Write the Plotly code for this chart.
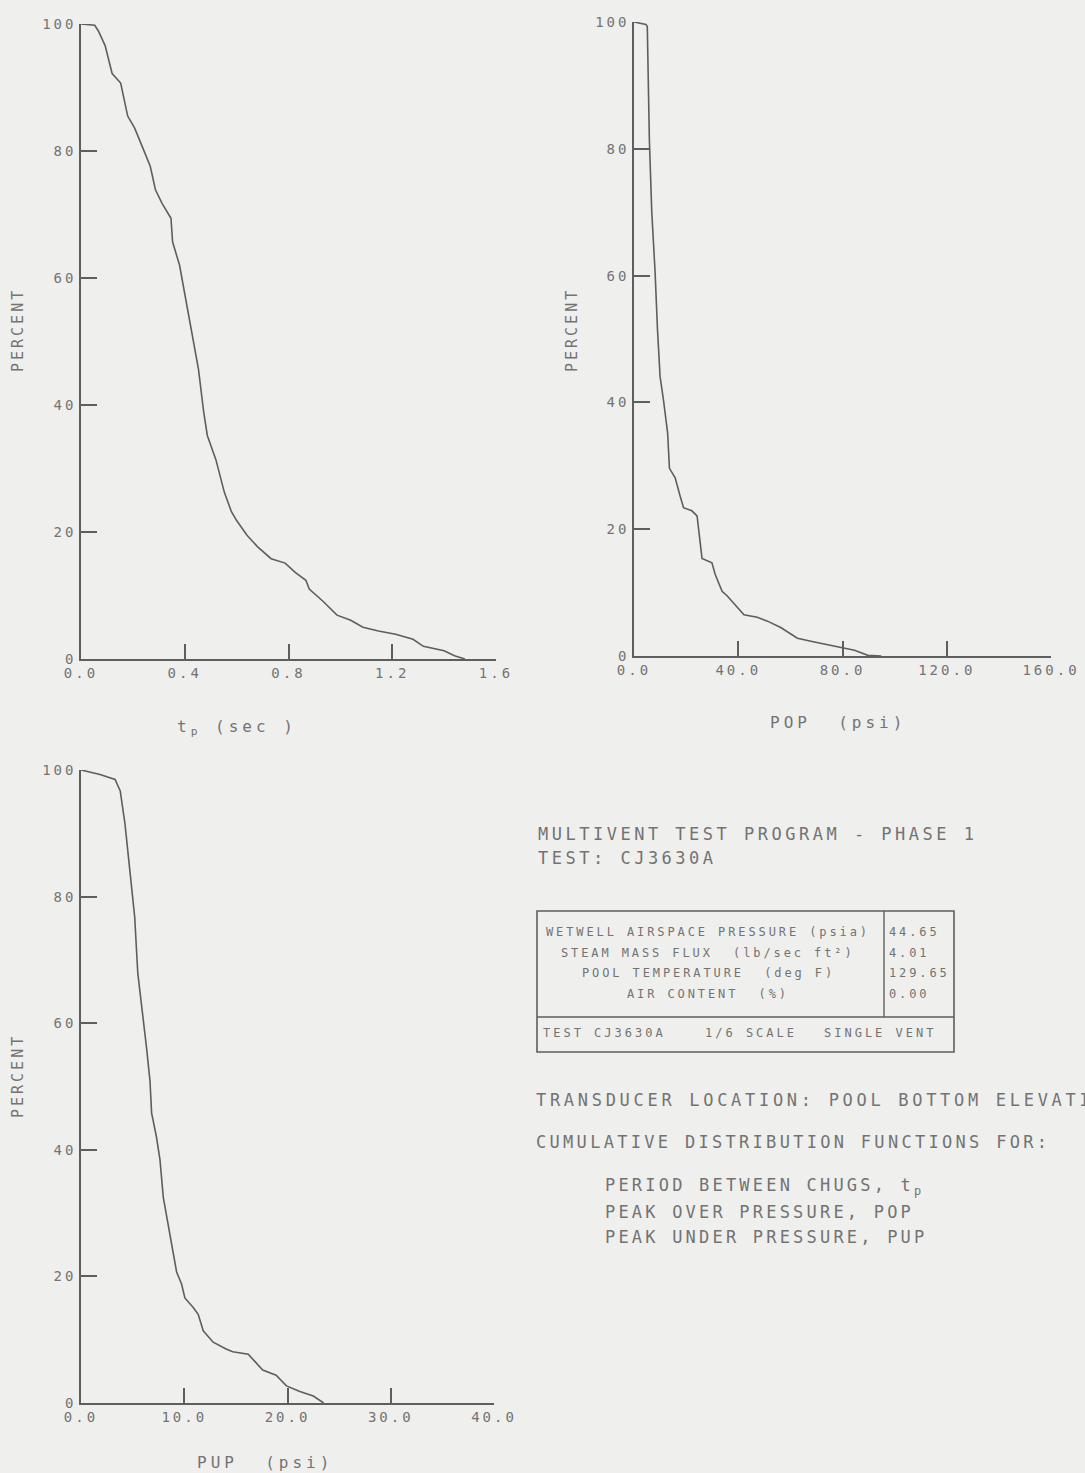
import plotly.graph_objects as go

W, H = 1085, 1473

# ---- data ----
tp_sec = [0.0, 0.053, 0.067, 0.093, 0.12, 0.153, 0.18, 0.207, 0.233, 0.267, 0.287, 0.313, 0.347,
          0.353, 0.38, 0.40, 0.427, 0.453, 0.473, 0.487, 0.52, 0.553, 0.58, 0.60, 0.64, 0.68,
          0.733, 0.787, 0.827, 0.867, 0.88, 0.933, 0.987, 1.04, 1.087, 1.147, 1.213, 1.28,
          1.32, 1.40, 1.44, 1.48]
tp_pct = [100.0, 99.8, 98.9, 96.6, 92.2, 90.7, 85.5, 83.6, 81.0, 77.6, 73.9, 71.7, 69.4,
          65.7, 62.0, 57.5, 51.6, 45.6, 38.9, 35.2, 31.4, 26.2, 23.2, 21.8, 19.5, 17.7,
          15.8, 15.1, 13.6, 12.4, 11.0, 9.1, 6.9, 6.1, 5.0, 4.4, 3.9, 3.1,
          2.0, 1.3, 0.5, 0.0]

pop_psi = [0.0, 4.6, 5.1, 5.9, 6.8, 8.1, 9.0, 10.0, 11.3, 12.9, 13.6, 15.8, 17.5, 19.0, 22.2,
           24.2, 26.1, 29.9, 31.2, 33.8, 35.7, 38.3, 42.2, 47.3, 51.2, 56.3, 60.2, 62.7,
           69.2, 74.3, 79.4, 84.6, 89.7, 94.9]
pop_pct = [100.0, 99.6, 99.3, 81.4, 70.2, 60.5, 51.6, 44.1, 40.4, 35.2, 29.6, 28.1, 25.5, 23.4,
           22.9, 22.1, 15.4, 14.7, 12.8, 10.2, 9.5, 8.3, 6.5, 6.1, 5.5, 4.5, 3.5, 2.8,
           2.2, 1.8, 1.3, 0.9, 0.1, 0.0]

pup_psi = [0.0, 1.84, 3.3, 3.8, 4.26, 4.74, 5.2, 5.5, 6.0, 6.35, 6.68, 6.84, 7.3, 7.65, 7.97,
           8.3, 8.77, 9.26, 9.74, 10.06, 10.87, 11.35, 11.84, 12.8, 14.1, 14.7, 16.2, 17.0,
           17.6, 18.9, 19.9, 21.2, 22.5, 23.5]
pup_pct = [100.0, 99.3, 98.5, 96.7, 91.5, 84.1, 76.8, 67.9, 61.3, 56.1, 50.9, 45.8, 42.1, 38.4,
           32.5, 29.5, 25.8, 20.7, 18.8, 16.6, 15.1, 14.0, 11.4, 9.6, 8.5, 8.1, 7.7, 6.3,
           5.2, 4.4, 2.7, 1.8, 1.1, 0.0]

y_ticks = [0, 20, 40, 60, 80, 100]
tp_ticks = [0.0, 0.4, 0.8, 1.2, 1.6]
tp_ticktext = ["0.0", "0.4", "0.8", "1.2", "1.6"]
pop_ticks = [0, 40, 80, 120, 160]
pop_ticktext = ["0.0", "40.0", "80.0", "120.0", "160.0"]
pup_ticks = [0, 10, 20, 30, 40]
pup_ticktext = ["0.0", "10.0", "20.0", "30.0", "40.0"]

table_labels = ["WETWELL AIRSPACE PRESSURE (psia)", "STEAM MASS FLUX  (lb/sec ft\u00b2)",
                "POOL TEMPERATURE  (deg F)", "AIR CONTENT  (%)"]
table_values = ["44.65", "4.01", "129.65", "0.00"]

# ---- styling ----
FONT = "DejaVu Sans Mono"
TXT = "#737373"
LINE = "#5e5e5e"
BG = "#efefed"


def sp(t, ls):
    return f'<span style="letter-spacing:{ls}px">{t}</span>'


def px_x(p):
    return p / W


def px_y(p):
    return 1 - p / H


fig = go.Figure()

panels = [
    (tp_sec, tp_pct, 1, [0, 1.6], tp_ticks, tp_ticktext, 81, 496, 24, 659),
    (pop_psi, pop_pct, 2, [0, 160], pop_ticks, pop_ticktext, 634, 1051, 22, 656),
    (pup_psi, pup_pct, 3, [0, 40], pup_ticks, pup_ticktext, 81, 494, 770, 1403),
]

layout_axes = {}
for xs, ys, i, xr, tv, tt, l, r, t, b in panels:
    suffix = "" if i == 1 else str(i)
    fig.add_trace(go.Scatter(x=xs, y=ys, mode="lines",
                             line=dict(color=LINE, width=1.6),
                             xaxis="x" + suffix, yaxis="y" + suffix,
                             showlegend=False, hoverinfo="skip"))
    tickfont = dict(family=FONT, size=14, color=TXT)
    layout_axes["xaxis" + suffix] = dict(
        domain=[px_x(l), px_x(r)], range=xr, anchor="y" + suffix, automargin=False,
        showgrid=False, zeroline=False, showline=True, linecolor=LINE, linewidth=1.5,
        ticks="inside", ticklen=15, tickwidth=1.5, tickcolor=LINE,
        tickvals=tv, ticktext=[sp(s, 3) for s in tt], tickfont=tickfont,
        fixedrange=True)
    layout_axes["yaxis" + suffix] = dict(
        domain=[px_y(b), px_y(t)], range=[0, 100], anchor="x" + suffix, automargin=False,
        showgrid=False, zeroline=False, showline=True, linecolor=LINE, linewidth=1.5,
        ticks="inside", ticklen=16, tickwidth=1.5, tickcolor=LINE,
        tickvals=y_ticks, ticktext=[sp(str(v), 3) for v in y_ticks], tickfont=tickfont,
        fixedrange=True)

ann = []


def add_text(text, x, y, size, xanchor="left", ls=3, angle=0):
    ann.append(dict(text=sp(text, ls), x=px_x(x), y=px_y(y), xref="paper", yref="paper",
                    xanchor=xanchor, yanchor="middle", showarrow=False, textangle=angle,
                    font=dict(family=FONT, size=size, color=TXT)))


# axis titles
add_text("PERCENT", 18, 330, 15, xanchor="center", ls=3, angle=-90)
add_text("PERCENT", 572, 330, 15, xanchor="center", ls=3, angle=-90)
add_text("PERCENT", 18, 1076, 15, xanchor="center", ls=3, angle=-90)
add_text("t<sub>p</sub> (sec )", 237, 727, 16, xanchor="center", ls=4)
add_text("POP  (psi)", 838, 722, 16, xanchor="center", ls=4)
add_text("PUP  (psi)", 265, 1462, 16, xanchor="center", ls=4)

# right-side notes
add_text("MULTIVENT TEST PROGRAM - PHASE 1", 536, 834, 17, ls=3.5)
add_text("TEST: CJ3630A", 536, 858, 17, ls=3.5)
add_text("TRANSDUCER LOCATION: POOL BOTTOM ELEVATION", 534, 1100, 17, ls=3.7)
add_text("CUMULATIVE DISTRIBUTION FUNCTIONS FOR:", 534, 1142, 17, ls=3.3)
add_text("PERIOD BETWEEN CHUGS, t<sub>p</sub>", 603, 1186, 17, ls=3.2)
add_text("PEAK OVER PRESSURE, POP", 603, 1212, 17, ls=3.2)
add_text("PEAK UNDER PRESSURE, PUP", 603, 1237, 17, ls=3.2)

# table
row_y = [932, 953, 973, 994]
for lab, val, ry in zip(table_labels, table_values, row_y):
    add_text(lab, 708, ry, 12, xanchor="center", ls=2.9)
    add_text(val, 887, ry, 12, ls=2.9)
add_text("TEST CJ3630A", 541, 1033, 12, ls=3.0)
add_text("1/6 SCALE", 703, 1033, 12, ls=3.0)
add_text("SINGLE VENT", 822, 1033, 12, ls=3.0)

shapes = [
    dict(type="rect", xref="paper", yref="paper", x0=px_x(537), x1=px_x(954),
         y0=px_y(1052), y1=px_y(911), line=dict(color=LINE, width=1.6)),
    dict(type="line", xref="paper", yref="paper", x0=px_x(537), x1=px_x(954),
         y0=px_y(1017), y1=px_y(1017), line=dict(color=LINE, width=1.4)),
    dict(type="line", xref="paper", yref="paper", x0=px_x(884), x1=px_x(884),
         y0=px_y(1017), y1=px_y(911), line=dict(color=LINE, width=1.4)),
]

fig.update_layout(
    template="none",
    width=W, height=H, margin=dict(l=0, r=0, t=0, b=0, pad=0, autoexpand=False),
    paper_bgcolor=BG, plot_bgcolor=BG,
    annotations=ann, shapes=shapes, showlegend=False,
    **layout_axes,
)

fig.write_html("out.html", config={"displayModeBar": False},
               post_script="document.body.style.margin='0px';document.body.style.background='%s';" % BG)
